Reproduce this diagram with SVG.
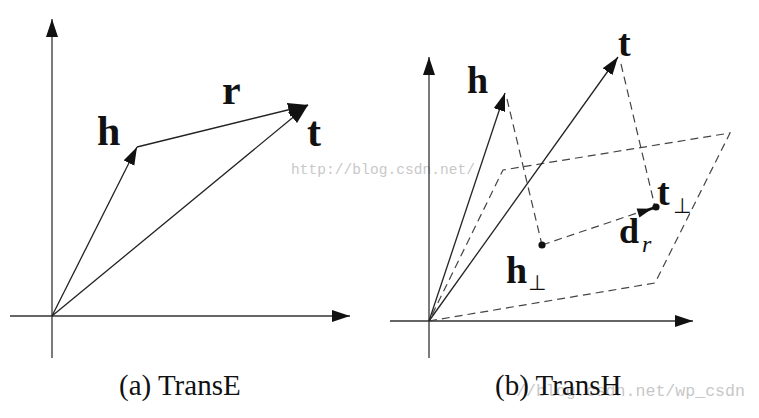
<svg xmlns="http://www.w3.org/2000/svg" width="759" height="418" viewBox="0 0 759 418">
<style>
.ax{stroke:#333;stroke-width:1.3;fill:none}
.vec{stroke:#222;stroke-width:1.3;fill:none}
.dash{stroke:#444;stroke-width:1.2;fill:none;stroke-dasharray:8 5}
.lbl{font-family:"Liberation Serif",serif;font-weight:bold;fill:#111}
.cap{font-family:"Liberation Serif",serif;font-size:29px;fill:#111}
.wm{font-family:"Liberation Mono",monospace;fill:#c8c8c8}
.perp{font-family:"DejaVu Sans",sans-serif;font-size:21px;fill:#111}
</style>
<defs>
<marker id="ah" markerUnits="userSpaceOnUse" markerWidth="20" markerHeight="14" refX="18" refY="6" orient="auto"><path d="M0,0 L18,6 L0,12 z" fill="#111"/></marker>
<marker id="ahL" markerUnits="userSpaceOnUse" markerWidth="22" markerHeight="16" refX="20" refY="7" orient="auto"><path d="M0,0 L20,7 L0,14 z" fill="#111"/></marker>
</defs>
<rect width="759" height="418" fill="#fff"/>

<text class="wm" x="291" y="174" font-size="14.5" textLength="184">http://blog.csdn.net/</text>
<text class="wm" x="516" y="396" font-size="16.6" textLength="229">//blog.csdn.net/wp_csdn</text>

<g id="axes">
<line class="ax" x1="52" y1="358" x2="52" y2="19" marker-end="url(#ah)"/>
<line class="ax" x1="10" y1="316" x2="350" y2="316" marker-end="url(#ah)"/>
<line class="ax" x1="429" y1="358" x2="429" y2="57" marker-end="url(#ah)"/>
<line class="ax" x1="390" y1="321" x2="693" y2="321" marker-end="url(#ah)"/>
</g>

<g id="connectors">
<line class="vec" x1="52" y1="316" x2="137" y2="147" marker-end="url(#ah)"/>
<line class="vec" x1="52" y1="316" x2="308" y2="105" marker-end="url(#ahL)"/>
<line class="vec" x1="137" y1="147" x2="308" y2="105" marker-end="url(#ahL)"/>
<polygon class="dash" points="429,321 655,283 730,133 503,170"/>
<line class="vec" x1="429" y1="321" x2="505" y2="93" marker-end="url(#ah)"/>
<line class="vec" x1="429" y1="321" x2="618" y2="57" marker-end="url(#ah)"/>
<line class="dash" x1="507" y1="99" x2="542" y2="245"/>
<line class="dash" x1="621" y1="64" x2="655" y2="207"/>
<line class="dash" x1="542" y1="245" x2="637" y2="213"/>
<line x1="645" y1="211" x2="656" y2="207" stroke="#111" stroke-width="2.8"/>
<polygon points="652,208.7 636.6,208.6 639.4,217.4" fill="#111"/>
</g>

<g id="points">
<circle cx="542" cy="245" r="3.6" fill="#111"/>
<circle cx="656" cy="207" r="3.6" fill="#111"/>
</g>

<g id="labels-a">
<text class="lbl" x="97" y="145" font-size="42">h</text>
<text class="lbl" x="222" y="104" font-size="42">r</text>
<text class="lbl" x="307" y="146" font-size="42">t</text>
</g>

<g id="labels-b">
<text class="lbl" x="467" y="93" font-size="38">h</text>
<text class="lbl" x="618" y="56" font-size="38">t</text>
<text class="lbl" x="506" y="283" font-size="38">h</text>
<text class="perp" x="528" y="290">⊥</text>
<text class="lbl" x="657" y="205" font-size="38">t</text>
<text class="perp" x="673" y="213">⊥</text>
<text class="lbl" x="619" y="243" font-size="36">d</text>
<text x="642" y="252" font-family="Liberation Serif,serif" font-style="italic" font-size="24" fill="#111">r</text>
</g>

<g id="captions">
<text class="cap" x="119" y="395">(a) TransE</text>
<text class="cap" x="495" y="395">(b) TransH</text>
</g>
</svg>
